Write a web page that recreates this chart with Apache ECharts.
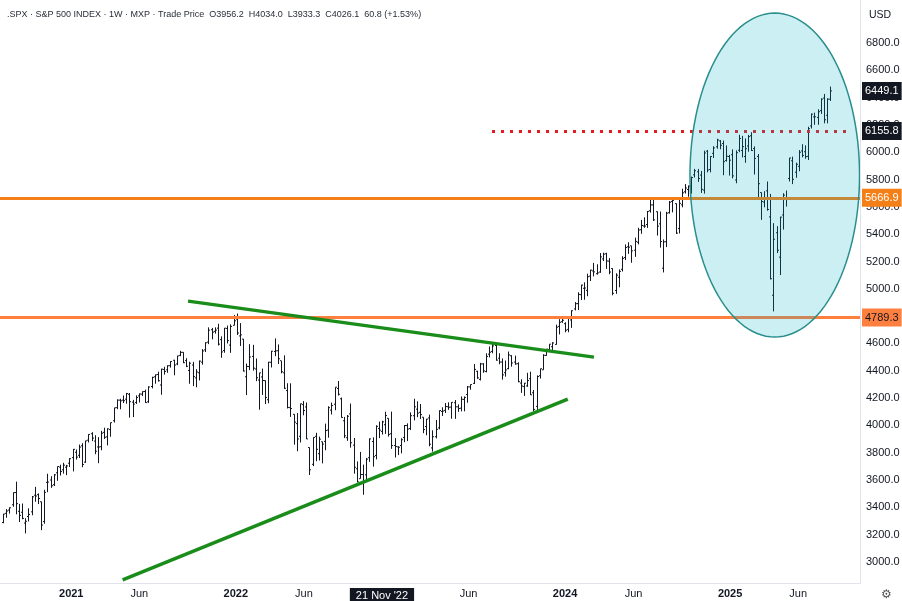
<!DOCTYPE html>
<html><head><meta charset="utf-8">
<script src="https://cdn.jsdelivr.net/npm/echarts@6/dist/echarts.min.js"></script>
<style>html,body{margin:0;padding:0;background:#fff}#c{width:902px;height:601px}</style>
</head><body><div id="c"></div>
<script>
const firstWeek = '2020-08-03';
// weekly OHLC, one row per week: [open, high, low, close]
const ohlc2020 = [
[3289,3352,3284,3351],[3356,3387,3324,3373],[3380,3399,3354,3397],[3419,3509,3404,3508],
[3508,3588,3349,3427],[3371,3425,3293,3341],[3364,3428,3313,3319],[3285,3320,3209,3298],
[3333,3393,3297,3348],[3367,3483,3342,3477],[3489,3550,3441,3483],[3493,3502,3424,3465],
[3441,3441,3233,3270],[3296,3529,3280,3510],[3583,3646,3511,3585],[3600,3628,3543,3558],
[3566,3644,3556,3638],[3653,3699,3594,3699],[3694,3712,3633,3663],[3675,3726,3647,3709],
[3694,3711,3636,3703],[3723,3760,3696,3756]];
const ohlc2021 = [
[3764,3827,3663,3825],[3803,3823,3750,3768],[3781,3860,3761,3841],[3851,3870,3694,3714],
[3731,3887,3726,3887],[3892,3935,3875,3934],[3939,3950,3885,3907],[3885,3928,3789,3811],
[3842,3914,3723,3842],[3844,3960,3818,3943],[3949,3983,3901,3913],[3916,3978,3853,3975],
[3969,4020,3917,4020],[4034,4129,4021,4129],[4130,4191,4119,4185],[4185,4195,4118,4180],
[4185,4219,4164,4181],[4192,4238,4159,4233],[4228,4237,4057,4174],[4170,4187,4061,4156],
[4168,4220,4157,4204],[4216,4234,4168,4230],[4229,4249,4215,4247],[4248,4262,4165,4167],
[4173,4286,4165,4281],[4285,4356,4271,4352],[4356,4372,4305,4370],[4373,4393,4321,4327],
[4296,4415,4224,4412],[4409,4429,4372,4395],[4407,4440,4385,4437],[4437,4470,4423,4468],
[4477,4480,4367,4442],[4450,4509,4441,4509],[4513,4546,4507,4535],[4535,4536,4456,4459],
[4474,4492,4427,4433],[4402,4466,4305,4455],[4442,4465,4288,4357],[4348,4412,4279,4391],
[4385,4475,4329,4471],[4463,4559,4445,4545],[4553,4608,4537,4605],[4610,4718,4595,4697],
[4701,4714,4630,4683],[4689,4718,4672,4698],[4712,4744,4585,4595],[4628,4652,4495,4538],
[4548,4713,4532,4712],[4710,4731,4600,4621],[4588,4740,4531,4725],[4733,4808,4733,4766]];
const ohlc2022 = [
[4778,4819,4662,4677],[4655,4749,4582,4663],[4632,4632,4395,4398],[4356,4453,4222,4432],
[4431,4595,4405,4501],[4505,4590,4401,4419],[4413,4490,4324,4349],[4332,4385,4115,4385],
[4355,4416,4223,4329],[4328,4329,4157,4205],[4188,4465,4162,4463],[4462,4546,4424,4543],
[4541,4637,4507,4546],[4547,4593,4450,4488],[4474,4471,4381,4393],[4385,4513,4267,4272],
[4255,4309,4124,4132],[4130,4308,4062,4123],[4081,4082,3859,4024],[4013,4091,3811,3901],
[3920,4159,3875,4158],[4152,4178,4074,4109],[4135,4168,3900,3901],[3838,3838,3637,3675],
[3715,3913,3702,3912],[3920,3946,3738,3825],[3793,3918,3743,3899],[3880,3880,3722,3863],
[3883,4013,3818,3962],[3966,4140,3910,4130],[4112,4167,4080,4145],[4155,4280,4111,4280],
[4270,4325,4219,4228],[4195,4204,4057,4058],[4034,4062,3907,3924],[3910,4076,3887,4067],
[4084,4160,3837,3873],[3855,3908,3647,3693],[3682,3736,3584,3586],[3610,3806,3610,3640],
[3640,3713,3492,3583],[3638,3762,3590,3753],[3764,3905,3733,3901],[3882,3912,3698,3771],
[3780,4001,3751,3993],[3977,4028,3907,3965],[3956.2,4034.0,3933.3,4026.1],[4005,4100,3938,4072],
[4052,4052,3918,3934],[3939,4101,3828,3852],[3853,3907,3765,3845],[3843,3846,3783,3840]];
const ohlc2023 = [
[3853,3906,3795,3895],[3911,4003,3877,3999],[3999,4015,3885,3973],[3978,4095,3966,4071],
[4071,4195,4037,4136],[4119,4176,4060,4090],[4096,4157,4047,4079],[4060,4060,3943,3970],
[3992,4048,3928,4046],[4055,4079,3847,3862],[3835,3964,3808,3917],[3917,4040,3905,3971],
[3982,4110,3971,4109],[4102,4133,4069,4105],[4110,4164,4091,4138],[4137,4169,4114,4133],
[4134,4170,4049,4169],[4166,4186,4048,4136],[4136,4154,4099,4124],[4126,4212,4103,4192],
[4190,4212,4103,4205],[4226,4288,4166,4282],[4282,4299,4261,4299],[4308,4449,4303,4410],
[4396,4400,4341,4348],[4337,4458,4329,4450],[4450,4456,4385,4399],[4394,4528,4389,4505],
[4521,4578,4498,4536],[4542,4607,4528,4582],[4585,4595,4474,4478],[4492,4528,4448,4464],
[4464,4490,4335,4370],[4386,4475,4357,4406],[4416,4541,4411,4516],[4510,4514,4430,4457],
[4464,4511,4444,4450],[4452,4462,4316,4320],[4310,4338,4238,4288],[4284,4311,4216,4309],
[4289,4385,4283,4328],[4342,4393,4223,4224],[4239,4259,4104,4117],[4139,4366,4103,4358],
[4364,4415,4343,4415],[4407,4521,4407,4514],[4512,4560,4510,4559],[4555,4595,4537,4595],
[4576,4609,4546,4604],[4593,4738,4592,4719],[4725,4778,4666,4755],[4759,4793,4751,4770]];
const ohlc2024 = [
[4745,4755,4682,4697],[4703,4799,4682,4784],[4772,4842,4714,4840],[4853,4903,4842,4891],
[4892,4975,4845,4959],[4957,5030,4918,5027],[5004,5048,4920,5006],[4989,5111,4946,5089],
[5093,5140,5057,5137],[5131,5190,5091,5124],[5111,5180,5104,5117],[5123,5262,5117,5234],
[5219,5265,5204,5254],[5257,5264,5146,5204],[5203,5225,5107,5123],[5149,5150,4953,4967],
[4988,5114,4963,5100],[5085,5142,5011,5128],[5143,5239,5127,5223],[5229,5325,5211,5303],
[5308,5341,5256,5305],[5315,5315,5191,5278],[5283,5375,5234,5347],[5341,5447,5325,5431],
[5433,5505,5403,5464],[5460,5524,5447,5460],[5471,5570,5446,5567],[5572,5655,5558,5615],
[5614,5669,5497,5505],[5565,5566,5390,5459],[5476,5566,5302,5346],[5151,5362,5120,5344],
[5345,5564,5306,5554],[5557,5643,5551,5634],[5640,5651,5560,5648],[5624,5625,5402,5408],
[5442,5670,5406,5626],[5615,5733,5597,5703],[5711,5767,5698,5738],[5727,5757,5674,5751],
[5737,5822,5697,5815],[5835,5878,5815,5865],[5857,5878,5783,5808],[5833,5863,5702,5729],
[5723,6012,5697,5995],[6008,6017,5853,5870],[5874,5972,5853,5969],[5992,6044,5958,6032],
[6040,6099,6026,6090],[6083,6089,6022,6051],[6064,6086,5832,5931],[5940,6050,5932,5971],
[5969,5981,5829,5942]];
const ohlc2025 = [
[5982,6021,5809,5827],[5797,6014,5773,5997],[6015,6128,6001,6101],[6013,6120,5962,6041],
[5969,6101,5923,6026],[6046,6127,6004,6115],[6121,6147,6009,6013],[6027,6043,5837,5955],
[5969,5987,5667,5770],[5705,5705,5505,5639],[5635,5715,5597,5667],[5718,5786,5572,5581],
[5527,5695,5069,5074],[4953,5481,4835,5363],[5411,5459,5262,5283],[5232,5528,5101,5525],
[5541,5700,5434,5686],[5656,5720,5602,5660],[5808,5959,5786,5958],[5938,5968,5767,5802],
[5854,5924,5813,5912],[5897,6016,5861,6000],[6010,6059,5963,5977],[6004,6051,5952,5968],
[5970,6187,5943,6173],[6193,6284,6174,6279],[6259,6290,6201,6260],[6255,6315,6201,6297],
[6305,6395,6281,6389],[6397,6427,6212,6238],[6271,6395,6212,6389],[6389,6481,6376,6449.1]];

const xTickDates = ['2021-01-01','2021-06-01','2022-01-01','2022-06-01','2022-11-21','2023-06-01','2024-01-01','2024-06-01','2025-01-01','2025-06-01'];
const yTickValues = [3000,3200,3400,3600,3800,4000,4200,4400,4600,4800,5000,5200,5400,5600,5800,6000,6200,6400,6600,6800];
const levels = {orangeHigh:5666.9, orangeLow:4789.3, redDotted:6155.8, last:6449.1};
const upperTrend = [['2021-09-17',4910],['2024-03-05',4500]];
const lowerTrend = [['2021-04-25',2868],['2024-01-07',4193]];
const redDottedSpan = ['2023-07-23','2025-09-24'];
const ellipseDef = {center:['2025-04-10',5833], left:'2024-10-04', top:7019};

const all = [].concat(ohlc2020,ohlc2021,ohlc2022,ohlc2023,ohlc2024,ohlc2025);
const t0 = Date.parse(firstWeek+'T00:00:00Z');
const data = all.map((r,i)=>[t0+i*7*864e5, r[0],r[1],r[2],r[3]]);
const T = s=>Date.parse(s+'T00:00:00Z');

const chart = echarts.init(document.getElementById('c'));
const tickColor='#131722';
const boxLbl=(txt,bg,fg)=>({position:'end',formatter:txt,backgroundColor:bg,color:fg,padding:[4,3,3,3],fontSize:11,distance:2});
chart.setOption({
  animation:false,
  textStyle:{fontFamily:'Liberation Sans, Arial, sans-serif'},
  grid:{left:0,right:42,top:0,bottom:18,containLabel:false,outerBoundsMode:'none'},
  title:[{text:'.SPX · S&P 500 INDEX · 1W · MXP · Trade Price  O3956.2  H4034.0  L3933.3  C4026.1  60.8 (+1.53%)',left:2,top:5,
     textStyle:{fontSize:9,fontWeight:'normal',color:'#2a2e39',fontFamily:'Liberation Sans, Arial'}},
     {text:'USD',left:864,top:5,textStyle:{fontSize:10.5,fontWeight:'normal',color:'#131722'}},
     {text:'⚙',left:876,top:584,textStyle:{fontSize:12,fontWeight:'normal',color:'#555'}}],
  xAxis:{type:'value',min:T('2020-07-27'),max:T('2025-10-16'),
    axisLine:{show:true,lineStyle:{color:'#e0e3eb'}},axisTick:{show:false},splitLine:{show:false},
    axisLabel:{customValues:xTickDates.map(T),color:'#131722',fontSize:11,margin:5,hideOverlap:false,
      formatter:v=>{const d=new Date(v);const m=d.getUTCMonth(),dd=d.getUTCDate();
        if(m===10&&dd===21) return '{sel|21 Nov \'22}';
        if(m===0) return '{yr|'+d.getUTCFullYear()+'}';
        return 'Jun';},
      rich:{yr:{fontWeight:'bold',fontSize:11,color:'#131722'},
            sel:{backgroundColor:'#131722',color:'#fff',padding:[2,6,2,6],fontSize:11}}}},
  yAxis:{type:'value',position:'right',min:2846,max:7115,
    axisLine:{show:true,lineStyle:{color:'#e0e3eb'}},axisTick:{show:false},splitLine:{show:false},
    axisLabel:{customValues:yTickValues,formatter:v=>v.toFixed(1),color:'#131722',fontSize:11,margin:6}},
  series:[
   {type:'custom',data:data,clip:true,z:3,
    renderItem:(p,api)=>{
      const x=api.value(0);const o=api.coord([x,api.value(1)]),h=api.coord([x,api.value(2)]),
        l=api.coord([x,api.value(3)]),c=api.coord([x,api.value(4)]);
      const cx=Math.round(h[0])+0.5, st={stroke:tickColor,lineWidth:1};
      return {type:'group',children:[
        {type:'line',shape:{x1:cx,y1:h[1],x2:cx,y2:l[1]},style:st},
        {type:'line',shape:{x1:cx-1.5,y1:o[1],x2:cx,y2:o[1]},style:st},
        {type:'line',shape:{x1:cx,y1:c[1],x2:cx+1.5,y2:c[1]},style:st}]};
    }},
   {type:'line',data:[],z:4,
    markLine:{symbol:'none',silent:true,data:[
      {yAxis:levels.orangeHigh,lineStyle:{color:'#f57f17',width:3,type:'solid'},label:boxLbl('5666.9','#f57f17','#fff')},
      {yAxis:levels.orangeLow,lineStyle:{color:'#ff7f3f',width:3,type:'solid'},label:boxLbl('4789.3','#ff7f3f','#131722')},
      [{coord:[T(redDottedSpan[0]),levels.redDotted],lineStyle:{color:'#e31c23',width:3,type:[3,6]},label:{show:false}},
       {coord:[T(redDottedSpan[1]),levels.redDotted]}],
      [{coord:[T(upperTrend[0][0]),upperTrend[0][1]],lineStyle:{color:'#198c19',width:3.5,type:'solid'},label:{show:false}},
       {coord:[T(upperTrend[1][0]),upperTrend[1][1]]}],
      [{coord:[T(lowerTrend[0][0]),lowerTrend[0][1]],lineStyle:{color:'#198c19',width:3.5,type:'solid'},label:{show:false}},
       {coord:[T(lowerTrend[1][0]),lowerTrend[1][1]]}]
    ]}},
   {type:'custom',data:[[T(ellipseDef.center[0]),ellipseDef.center[1]]],clip:true,z:5,silent:true,
    renderItem:(p,api)=>{
      const c=api.coord([T(ellipseDef.center[0]),ellipseDef.center[1]]);
      const lt=api.coord([T(ellipseDef.left),ellipseDef.top]);
      const rx=c[0]-lt[0], ry=c[1]-lt[1], pts=[];
      for(let i=0;i<120;i++){const a=i/120*2*Math.PI;pts.push([c[0]+rx*Math.cos(a),c[1]+ry*Math.sin(a)]);}
      return {type:'polygon',shape:{points:pts},style:{fill:'rgba(0,175,200,0.2)',stroke:'#2a8f8c',lineWidth:1.5}};
    }},
   {type:'line',data:[],z:6,
    markLine:{symbol:'none',silent:true,data:[
      {yAxis:levels.last,lineStyle:{color:'rgba(0,0,0,0)',width:1},label:boxLbl('6449.1','#131722','#fff')},
      {yAxis:levels.redDotted,lineStyle:{color:'rgba(0,0,0,0)',width:1},label:boxLbl('6155.8','#131722','#fff')}
    ]}}
  ]
});
</script></body></html>
